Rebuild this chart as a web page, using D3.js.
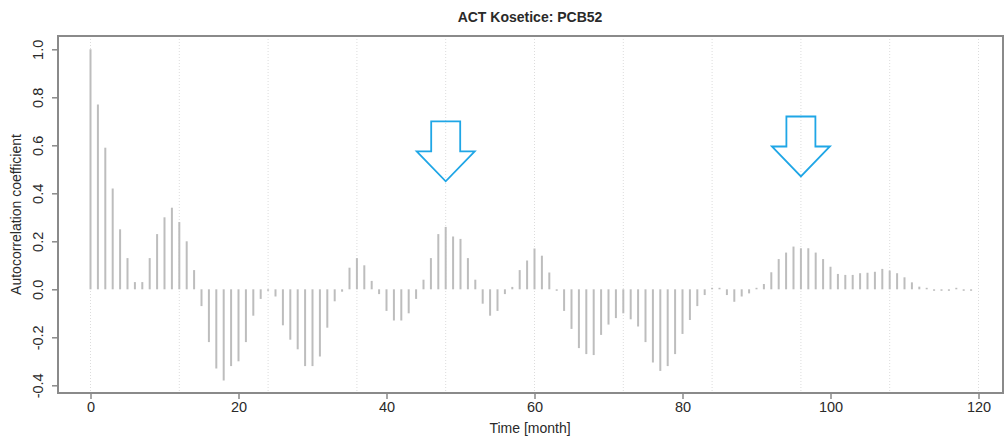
<!DOCTYPE html>
<html>
<head>
<meta charset="utf-8">
<script src="https://cdn.jsdelivr.net/npm/d3@7"></script>
<style>
  body { margin: 0; background: #fff; }
  svg text { font-family: "Liberation Sans", Arial, sans-serif; fill: #2a2a2a; }
</style>
</head>
<body>
<div id="chart"></div>
<script>
// autocorrelation by lag (months 0..119)
var acf = [
  1.00, 0.77, 0.59, 0.42, 0.25, 0.13, 0.03, 0.03, 0.13, 0.23,
  0.30, 0.34, 0.28, 0.20, 0.08, -0.07, -0.22, -0.33, -0.38, -0.32,
  -0.30, -0.22, -0.11, -0.04, -0.006, -0.03, -0.15, -0.21, -0.25, -0.32,
  -0.32, -0.28, -0.16, -0.05, -0.01, 0.09, 0.13, 0.10, 0.035, -0.02,
  -0.09, -0.13, -0.13, -0.10, -0.04, 0.04, 0.13, 0.23, 0.26, 0.22,
  0.21, 0.13, 0.04, -0.06, -0.11, -0.09, -0.02, 0.01, 0.08, 0.12,
  0.17, 0.14, 0.07, -0.006, -0.09, -0.165, -0.245, -0.27, -0.274, -0.19,
  -0.147, -0.12, -0.10, -0.125, -0.155, -0.22, -0.305, -0.34, -0.32, -0.27,
  -0.186, -0.128, -0.07, -0.024, 0.004, 0.002, -0.024, -0.052, -0.03, -0.017,
  0.005, 0.022, 0.071, 0.126, 0.153, 0.178, 0.171, 0.171, 0.153, 0.126,
  0.094, 0.064, 0.06, 0.06, 0.067, 0.069, 0.073, 0.085, 0.078, 0.067,
  0.05, 0.029, 0.011, 0.003, -0.003, -0.004, -0.003, 0.002, -0.002, -0.002
];
var lags = acf.map(function(d, i) { return i; });

var xTicks = [0, 20, 40, 60, 80, 100, 120];
var yTicks = [-0.4, -0.2, 0.0, 0.2, 0.4, 0.6, 0.8, 1.0];
var gridLags = [0, 12, 24, 36, 48, 60, 72, 84, 96, 108, 120];

// highlighted seasonal peaks (lag, value at arrow tip, value at arrow top)
var arrowLags = [48, 96];
var arrowTips = [0.45, 0.47];
var arrowTops = [0.70, 0.72];

var title = "ACT Kosetice: PCB52";
var xTitle = "Time [month]";
var yTitle = "Autocorrelation coefficient";

var width = 1004, height = 439;
var box = { left: 58, top: 36, right: 1003, bottom: 393 };

var svg = d3.select('#chart')
    .append('svg')
    .attr('width', width)
    .attr('height', height);

var x = d3.scaleLinear()
    .domain([0, 120])
    .range([90.5, 978.5]);

var y = d3.scaleLinear()
    .domain([0, 1])
    .range([289.3, 49.3]);

// R style labels use a plain hyphen for negatives
var fmt1 = d3.format('.1f');
var yFormat = function(d) { return fmt1(d).replace('\u2212', '-'); };

///////////////////// gridlines /////////////////////
svg.selectAll('.grid')
    .data(gridLags)
    .enter()
    .append('line')
    .attr('class', 'grid')
    .attr('x1', function(d) { return x(d); })
    .attr('x2', function(d) { return x(d); })
    .attr('y1', box.top)
    .attr('y2', box.bottom)
    .attr('stroke', '#dcdcdc')
    .attr('stroke-width', 1)
    .attr('stroke-dasharray', '1,2');

///////////////////// acf bars /////////////////////
svg.selectAll('.bar')
    .data(lags)
    .enter()
    .append('line')
    .attr('class', 'bar')
    .attr('x1', function(d) { return x(d); })
    .attr('x2', function(d) { return x(d); })
    .attr('y1', y(0))
    .attr('y2', function(d) {
      var v = acf[d];
      // keep very small values visible as dots
      if (Math.abs(y(v) - y(0)) < 1.5) return y(0) + (v < 0 ? 1.5 : -1.5);
      return y(v);
    })
    .attr('stroke', '#bdbdbd')
    .attr('stroke-width', 2);

///////////////////// box + axes /////////////////////
svg.append('rect')
    .attr('x', box.left)
    .attr('y', box.top)
    .attr('width', box.right - box.left)
    .attr('height', box.bottom - box.top)
    .attr('fill', 'none')
    .attr('stroke', '#8a8a8a')
    .attr('stroke-width', 2);

var xAxis = svg.append('g')
    .attr('transform', 'translate(0,' + box.bottom + ')')
    .call(d3.axisBottom(x).tickValues(xTicks).tickSize(6).tickPadding(3).tickFormat(d3.format('d')));
xAxis.select('.domain').remove();
xAxis.selectAll('line').attr('stroke', '#8a8a8a').attr('stroke-width', 1.5);
xAxis.selectAll('text').attr('font-size', 14.5).attr('fill', '#2a2a2a');

var yAxis = svg.append('g')
    .attr('transform', 'translate(' + box.left + ',0)')
    .call(d3.axisLeft(y).tickValues(yTicks).tickSize(6).tickFormat(yFormat));
yAxis.select('.domain').remove();
yAxis.selectAll('line').attr('stroke', '#8a8a8a').attr('stroke-width', 1.5);
yAxis.selectAll('text')
    .attr('font-size', 14.5)
    .attr('fill', '#2a2a2a')
    .attr('x', 0)
    .attr('dy', 0)
    .attr('text-anchor', 'middle')
    .attr('transform', 'translate(-15,0) rotate(-90)');

///////////////////// titles /////////////////////
svg.append('text')
    .attr('x', 530)
    .attr('y', 22)
    .attr('text-anchor', 'middle')
    .attr('font-weight', 'bold')
    .attr('font-size', 14)
    .text(title);

svg.append('text')
    .attr('x', 530)
    .attr('y', 433)
    .attr('text-anchor', 'middle')
    .attr('font-size', 14)
    .text(xTitle);

svg.append('text')
    .attr('transform', 'translate(21,' + (box.top + box.bottom) / 2 + ') rotate(-90)')
    .attr('text-anchor', 'middle')
    .attr('font-size', 14)
    .text(yTitle);

///////////////////// arrows /////////////////////
var arrowPath = function(i) {
  var cx = x(arrowLags[i]);
  var tip = y(arrowTips[i]);
  var top = y(arrowTops[i]);
  var headBase = (tip + top) / 2;
  var sw = 14.5, hw = 29;
  return 'M' + (cx - sw) + ',' + top +
    'L' + (cx + sw) + ',' + top +
    'L' + (cx + sw) + ',' + headBase +
    'L' + (cx + hw) + ',' + headBase +
    'L' + cx + ',' + tip +
    'L' + (cx - hw) + ',' + headBase +
    'L' + (cx - sw) + ',' + headBase + 'Z';
};

svg.selectAll('.arrow')
    .data(arrowLags)
    .enter()
    .append('path')
    .attr('class', 'arrow')
    .attr('d', function(d, i) { return arrowPath(i); })
    .attr('fill', 'none')
    .attr('stroke', '#1fa6e6')
    .attr('stroke-width', 1.8);
</script>
</body>
</html>
